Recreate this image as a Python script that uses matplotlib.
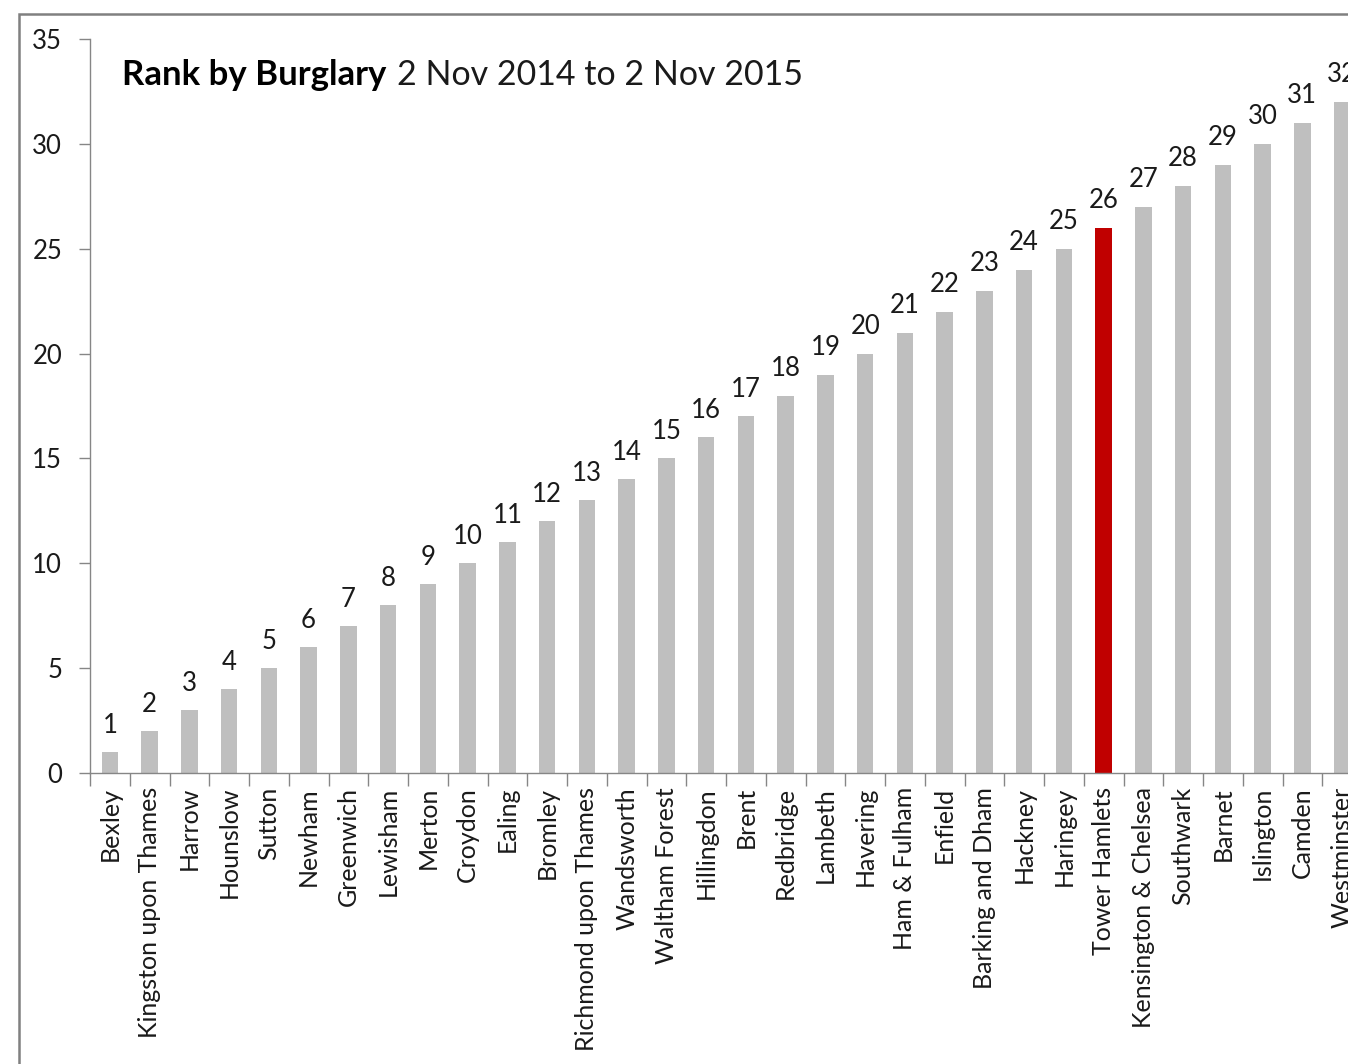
import matplotlib
matplotlib.use("Agg")
from matplotlib import pyplot as plt
from matplotlib.patches import Rectangle

# boroughs ordered by rank
boroughs = ["Bexley", "Kingston upon Thames", "Harrow", "Hounslow", "Sutton",
            "Newham", "Greenwich", "Lewisham", "Merton", "Croydon", "Ealing",
            "Bromley", "Richmond upon Thames", "Wandsworth", "Waltham Forest",
            "Hillingdon", "Brent", "Redbridge", "Lambeth", "Havering",
            "Ham & Fulham", "Enfield", "Barking and Dham", "Hackney", "Haringey",
            "Tower Hamlets", "Kensington & Chelsea", "Southwark", "Barnet",
            "Islington", "Camden", "Westminster"]
ranks = [1, 2, 3, 4, 5, 6, 7, 8, 9, 10, 11, 12, 13, 14, 15, 16, 17, 18, 19, 20,
         21, 22, 23, 24, 25, 26, 27, 28, 29, 30, 31, 32]
highlight = "Tower Hamlets"

plt.rcParams['font.family'] = ['Lato', 'DejaVu Sans']

fig = plt.figure(figsize=(13.48, 10.64), dpi=100)

# outer chart frame (cut off at right and bottom)
fig.patches.append(Rectangle((19 / 1348, -0.1), 1.2, (1064 - 14) / 1064 + 0.1,
                             transform=fig.transFigure, fill=False,
                             edgecolor="#808080", linewidth=1.8))

ax = fig.add_axes([90 / 1348, 291 / 1064, 1272 / 1348, 734 / 1064])

x = list(range(len(boroughs)))
colors = ["#C00000" if b == highlight else "#BFBFBF" for b in boroughs]
ax.bar(x, ranks, width=0.42, color=colors)

for xi, r in zip(x, ranks):
    ax.annotate(str(r), (xi, r), xytext=(0, 14), textcoords="offset points",
                ha="center", va="baseline", fontsize=18.5, color="#1a1a1a")

ax.set_xlim(-0.5, len(boroughs) - 0.5)
ax.set_ylim(0, 35)
ax.set_yticks(range(0, 36, 5))
ax.tick_params(axis="y", direction="out", length=8, width=1, color="#868686",
               labelsize=18.5, pad=12, labelcolor="#1a1a1a")

ax.set_xticks([i - 0.5 for i in range(len(boroughs) + 1)], minor=False)
ax.set_xticklabels([])
ax.set_xticks(x, minor=True)
ax.set_xticklabels(boroughs, minor=True, rotation=90, fontsize=18,
                   color="#1a1a1a", va="top", ha="center")
ax.tick_params(axis="x", which="major", direction="out", length=9, width=1,
               color="#868686")
ax.tick_params(axis="x", which="minor", length=0, pad=10)

for s in ["top", "right"]:
    ax.spines[s].set_visible(False)
for s in ["left", "bottom"]:
    ax.spines[s].set_color("#868686")
    ax.spines[s].set_linewidth(1)

# title: bold part followed by regular part
t1 = fig.text(122 / 1348, 1 - 85 / 1064, "Rank by Burglary", fontsize=25,
              fontweight="bold", color="#000000", va="baseline")
fig.canvas.draw()
bb = t1.get_window_extent()
fig.text((bb.x1 + 11) / 1348, 1 - 85 / 1064, "2 Nov 2014 to 2 Nov 2015",
         fontsize=24.5, color="#1a1a1a", va="baseline")

fig.savefig("out.png", dpi=100)
